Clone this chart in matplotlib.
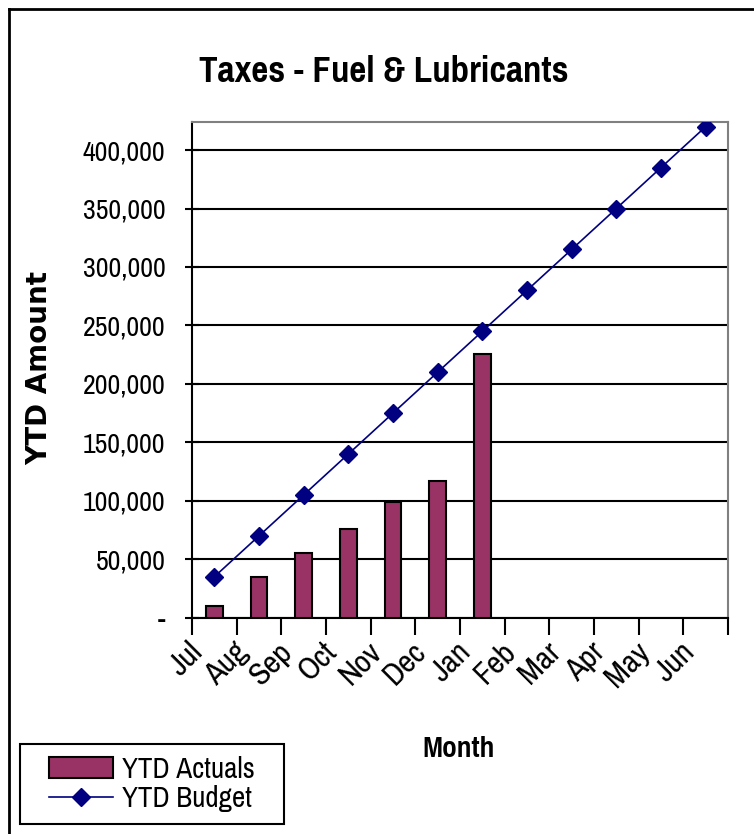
import matplotlib
matplotlib.use("Agg")
import matplotlib.pyplot as plt
from matplotlib.lines import Line2D
from matplotlib.patches import Rectangle
from matplotlib.ticker import FixedLocator, FuncFormatter
from matplotlib import font_manager
from matplotlib.font_manager import FontProperties
from matplotlib.transforms import ScaledTranslation
import numpy as np

months = ["Jul", "Aug", "Sep", "Oct", "Nov", "Dec", "Jan", "Feb", "Mar", "Apr", "May", "Jun"]
ytd_actuals = [10000, 35000, 55600, 76000, 99000, 116500, 225500]
ytd_budget = [35000, 70000, 105000, 140000, 175000, 210000, 245000,
              280000, 315000, 350000, 385000, 420000]
yticks = [0, 50000, 100000, 150000, 200000, 250000, 300000, 350000, 400000]

# look for narrow sans fonts (regular and bold)
narrow_family = None
narrow_bold_file = None
for f in font_manager.fontManager.ttflist:
    if "Narrow" in f.name or "Narrow" in f.fname:
        w = f.weight if isinstance(f.weight, int) else (700 if "bold" in str(f.weight).lower() else 400)
        if w >= 600 and "Italic" not in f.fname and f.style == "normal":
            narrow_bold_file = f.fname
        if narrow_family is None:
            narrow_family = f.name
if narrow_family is None:
    narrow_family = "Liberation Sans"

FONT = [narrow_family, "Liberation Sans", "DejaVu Sans"]
plt.rcParams['font.family'] = FONT

if narrow_bold_file:
    title_fp = FontProperties(fname=narrow_bold_file, size=29)
    month_fp = FontProperties(fname=narrow_bold_file, size=23)
else:
    title_fp = FontProperties(family=["Liberation Sans", "DejaVu Sans"], weight="bold", size=24)
    month_fp = FontProperties(family=["Liberation Sans", "DejaVu Sans"], weight="bold", size=19)

W, H = 754, 834
fig = plt.figure(figsize=(W / 100, H / 100), dpi=100)
fig.patch.set_facecolor("white")

ax = fig.add_axes([192 / W, 1 - 617.7 / H, (728 - 192) / W, (617.7 - 122) / H])

x = np.arange(len(months))
xa = np.arange(len(ytd_actuals))
bars = ax.bar(xa, ytd_actuals, width=0.38, color="#993366", edgecolor="black",
              linewidth=1.5, zorder=3, label="YTD Actuals")
line, = ax.plot(x, ytd_budget, color="#000080", linewidth=1.2, marker="D",
                markersize=9, markerfacecolor="#000080", markeredgecolor="#000080",
                zorder=4, label="YTD Budget")

ax.set_xlim(-0.5, len(months) - 0.5)
ax.set_ylim(0, 424000)

ax.yaxis.set_major_locator(FixedLocator(yticks))
ax.yaxis.set_major_formatter(FuncFormatter(lambda v, p: "-" if v == 0 else f"{int(v):,}"))
ax.grid(axis="y", color="black", linewidth=1.5, zorder=1)
ax.set_axisbelow(True)
ax.tick_params(axis="y", direction="inout", length=10, width=1.5, labelsize=20, pad=14)

ax.set_xticks(x)
ax.set_xticklabels(months, rotation=45, ha="right", rotation_mode="anchor", fontsize=23)
ax.tick_params(axis="x", which="major", length=0, pad=14)
ax.set_xticks(np.arange(-0.5, len(months)), minor=True)
ax.tick_params(axis="x", which="minor", direction="out", length=12, width=1.5)
shift = ScaledTranslation(-26 / 100, 0, fig.dpi_scale_trans)
for lab in ax.get_xticklabels():
    lab.set_transform(lab.get_transform() + shift)

for s in ["left", "bottom"]:
    ax.spines[s].set_color("black")
    ax.spines[s].set_linewidth(1.5)
for s in ["top", "right"]:
    ax.spines[s].set_color("#808080")
    ax.spines[s].set_linewidth(1.5)

fig.text(384 / W, 1 - 71 / H, "Taxes - Fuel & Lubricants", ha="center", va="center",
         fontproperties=title_fp)
fig.text(39 / W, 1 - 368 / H, "YTD Amount", ha="center", va="center", rotation=90,
         fontsize=20, fontweight="bold", family=["DejaVu Sans"])
fig.text(459 / W, 1 - 749 / H, "Month", ha="center", va="center",
         fontproperties=month_fp)

# legend frame drawn as figure rectangle, entries centred in it
fig.add_artist(Rectangle((20 / W, 1 - 824 / H), 264 / W, 80 / H, transform=fig.transFigure,
                         facecolor="white", edgecolor="black", linewidth=1.5, zorder=5))
leg = fig.legend([bars, line], ["YTD Actuals", "YTD Budget"],
                 loc="center", bbox_to_anchor=(20 / W, 1 - 824 / H, 264 / W, 80 / H),
                 fontsize=21, frameon=False, handlelength=2.2, borderpad=0.3,
                 labelspacing=0.1, handletextpad=0.3)
leg.set_zorder(6)

fig.add_artist(Line2D([9 / W, 9 / W], [0, 1 - 9 / H], color="black", linewidth=2))
fig.add_artist(Line2D([9 / W, 1], [1 - 9 / H, 1 - 9 / H], color="black", linewidth=2))

fig.savefig("out.png", dpi=100)
